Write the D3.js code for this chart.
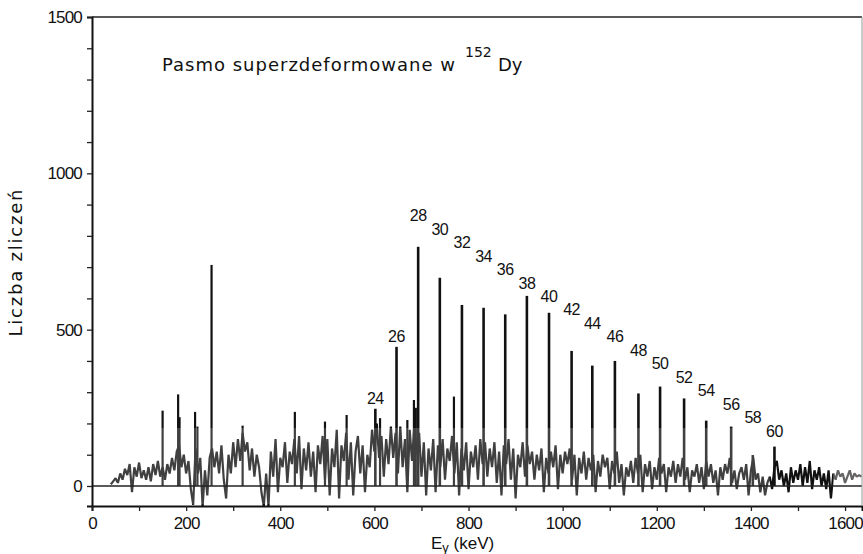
<!DOCTYPE html>
<html>
<head>
<meta charset="utf-8">
<script src="https://cdn.jsdelivr.net/npm/d3@7"></script>
<style>
  html, body { margin: 0; padding: 0; background: #fff; }
  svg { display: block; }
  text { fill: #111; }
</style>
</head>
<body>
<svg id="chart" width="863" height="554"></svg>
<script>
/* Widmo gamma — pasmo superzdeformowane w 152Dy.
   Tło odczytane z rysunku co 5 keV, linie osobno. */

const BG_START = 40, BG_STEP = 5;
// zliczenia tła, 20 wartości na wiersz (100 keV)
const background = [
    5,  15,  25,  10,  40,  20,  55,  35,  70, -20,  60,  30,  75,  25,  50,  20,  60,  15,  70,  35,
   80,  30,  60,  20,  70,  40,  90,  50, 110, 130,  60, 100,  40,  80, -10, -60, 120,  40,  90, -65,
   50, -30,  90, 120,  60, 110,  40, 130,  20, -40, 100,  40, 140,  60, 150,  80, 170, 110, 140,  50,
  120,  30, 100,  60, -20, -65,  40, -65, 110,  30, 150, -20,  90,  60, 140,  10, 110,  70, 150,  40,
  160, -10, 120,  50, 140,  30, 110, -20, 130,  70, 160,  20, 150, -30, 120,  60, 180, -40, 130,  80,
  170,  20, 140, -30, 110, 160,  40, 130, -20, 100,  60, 180, 110, 200,  90, 160,  30, 150,  70, 190,
   90, 170,  40, 190,  60, 150, -20, 180,  80, 200, 100, 170,  30, 140, -30, 120,  50, 150, -20, 130,
   60, 150,  20, 120,  80, 160,  40, 140, -30, 120,  50, 140, -10, 110,  60, 130,  20, 150,  70, 140,
   30, 120,  60, 140,  10, 110, -30, 130,  70, 150,  20, 120, -40, 100,  60, 140,  30, 130,  70, 110,
   20, 100,  50, 120, -20,  90,  40, 110,  60, 130, -10, 100,  40, 110,  70, 120,  20, 100, -30,  90,
   40, 110,  20,  90,  50, 100, -20,  80,  30, 100,  60,  90, -10,  80,  40, 110,  10,  70, -30,  60,
   30,  80,  10,  90,  40, 100, -20,  70,  30,  80, -10,  60,  20,  90,  40,  70, -20,  60,  30,  80,
   10,  70,  30,  90,  20,  60, -20,  50,  30,  70,  10,  60, -10,  80,  30,  70,  10,  50, -30,  60,
   20,  70,  40,  90,  10,  50, -10,  40,  60,  20,  70, -30,  50,  90,  20,  40, -20,  30, -30,  10,
   30, -10,  60,  80,  20,  50,   0,  40, -20,  60,  10,  50,  20,  70,   0,  60,  10,  80, -10,  50,
   20,  60,   0,  40, -10,  50, -40,  40,  20,  50,  30,  40,  10,  30,  50,  20,  40,  30,  35,  30
];

// linie nienależące do pasma
const otherEnergies = [150, 183, 186, 219, 224, 254, 320, 431, 495, 541, 612, 670, 684, 688, 769];
const otherCounts   = [241, 293, 220, 237, 190, 707, 193, 237, 206, 227, 217, 211, 275, 250, 286];

// pasmo superzdeformowane: spin, energia, zliczenia
const sdSpins    = [24, 26, 28, 30, 32, 34, 36, 38, 40, 42, 44, 46, 48, 50, 52, 54, 56, 58, 60];
const sdEnergies = [602, 647, 693, 739, 786, 832, 878, 924, 971, 1019, 1063, 1111, 1161, 1207, 1258, 1305, 1358, 1404, 1450];
const sdCounts   = [247, 445, 765, 666, 579, 570, 549, 608, 554, 432, 385, 400, 296, 318, 280, 209, 190, 99, 126];

const xTickValues = d3.range(0, 1601, 100);
const xTickLabels = ['0', '200', '400', '600', '800', '1000', '1200', '1400', '1600'];
const yTickValues = d3.range(0, 1501, 100);
const yTickLabels = ['0', '500', '1000', '1500'];

const TITLE = 'Pasmo superzdeformowane w';
const Y_LABEL = 'Liczba zliczeń';

(function () {
  const svg = d3.select('#chart');
  const FONT = '"Liberation Sans", Arial, sans-serif';
  const PLOT_FONT = '"DejaVu Sans", sans-serif';

  const x = d3.scaleLinear().domain([0, 1636]).range([92, 862]);
  const y = d3.scaleLinear().domain([-64, 1500]).range([506, 17]);

  const bgPoints = background.map((c, i) => [BG_START + i * BG_STEP, c]);

  // --- widmo (tło) ---
  const line = d3.line().x(d => x(d[0])).y(d => y(d[1]));
  svg.append('path')
    .datum(bgPoints)
    .attr('d', line)
    .attr('fill', 'none')
    .attr('stroke', '#111')
    .attr('stroke-width', 2.2)
    .attr('stroke-linejoin', 'bevel');

  // --- linie ---
  const peaks = otherEnergies.map((e, i) => ({ e, c: otherCounts[i], w: 2.2 }))
    .concat(sdEnergies.map((e, i) => ({ e, c: sdCounts[i], w: 2.6 })));
  svg.append('g').selectAll('line')
    .data(peaks)
    .join('line')
    .attr('x1', d => x(d.e)).attr('x2', d => x(d.e))
    .attr('y1', y(0)).attr('y2', d => y(d.c))
    .attr('stroke', '#111')
    .attr('stroke-width', d => d.w);

  // zblakły pas skanu w dolnej części
  svg.append('rect')
    .attr('x', x(0) + 1).attr('y', 428)
    .attr('width', x(1440) - x(0) - 1).attr('height', 76)
    .attr('fill', '#fff').attr('opacity', 0.2);
  svg.append('rect')
    .attr('x', x(1575)).attr('y', 428)
    .attr('width', x(1636) - x(1575)).attr('height', 76)
    .attr('fill', '#fff').attr('opacity', 0.35);

  // linia zera
  svg.append('line')
    .attr('x1', x(0)).attr('x2', x(1636))
    .attr('y1', y(0)).attr('y2', y(0))
    .attr('stroke', '#222').attr('stroke-width', 1.6);

  // --- osie ---
  const yAxis = d3.axisLeft(y)
    .tickValues(yTickValues)
    .tickSize(5)
    .tickPadding(5)
    .tickFormat(d => (d % 500 === 0 ? yTickLabels[d / 500] : ''));
  const gy = svg.append('g').attr('transform', `translate(${x(0)},0)`).call(yAxis);

  const xAxis = d3.axisBottom(x)
    .tickValues(xTickValues)
    .tickSize(5)
    .tickPadding(6)
    .tickFormat(d => (d % 200 === 0 ? xTickLabels[d / 200] : ''));
  const gx = svg.append('g').attr('transform', `translate(0,${y(-64)})`).call(xAxis);

  [gx, gy].forEach(g => {
    g.select('.domain').attr('stroke', '#111').attr('stroke-width', 2);
    g.selectAll('.tick line').attr('stroke', '#222').attr('stroke-width', 1.3);
    g.selectAll('.tick text')
      .attr('fill', '#111')
      .style('font-family', FONT)
      .style('font-size', '17px')
      .style('letter-spacing', '-0.8px');
  });

  // ramka: góra i prawa strona
  svg.append('line')
    .attr('x1', x(0)).attr('x2', x(1636)).attr('y1', y(1500)).attr('y2', y(1500))
    .attr('stroke', '#222').attr('stroke-width', 1.6);
  svg.append('line')
    .attr('x1', x(1636)).attr('x2', x(1636)).attr('y1', y(1500)).attr('y2', y(-64))
    .attr('stroke', '#999').attr('stroke-width', 1);

  // --- etykiety spinów ---
  // 24 i 26 tuż nad linią, dalej po skośnej od 28 w dół
  function labelCount(i) {
    const s = sdSpins[i];
    if (s < 28) return sdCounts[i] + 16;
    return 847 - (s - 28) / 2 * 43.1;
  }
  svg.append('g').selectAll('text')
    .data(sdSpins)
    .join('text')
    .attr('x', (d, i) => x(sdEnergies[i]))
    .attr('y', (d, i) => y(labelCount(i)))
    .attr('text-anchor', 'middle')
    .style('font-family', FONT)
    .style('font-size', '16px')
    .style('letter-spacing', '-0.5px')
    .text(d => d);

  // --- tytuł ---
  svg.append('text')
    .attr('x', 162).attr('y', 71)
    .attr('textLength', 293).attr('lengthAdjust', 'spacing')
    .style('font-family', PLOT_FONT).style('font-size', '18px')
    .text(TITLE);
  svg.append('text')
    .attr('x', 465).attr('y', 57)
    .style('font-family', PLOT_FONT).style('font-size', '14px')
    .text('152');
  svg.append('text')
    .attr('x', 498).attr('y', 71)
    .style('font-family', PLOT_FONT).style('font-size', '18px')
    .text('Dy');

  // --- podpisy osi ---
  svg.append('text')
    .attr('transform', 'translate(22,263) rotate(-90)')
    .attr('text-anchor', 'middle')
    .attr('textLength', 147).attr('lengthAdjust', 'spacing')
    .style('font-family', PLOT_FONT).style('font-size', '18px')
    .text(Y_LABEL);

  const xl = svg.append('text')
    .attr('x', 431).attr('y', 549)
    .style('font-family', FONT).style('font-size', '17px');
  xl.append('tspan').text('E');
  xl.append('tspan').attr('dy', 3).style('font-size', '13px').text('γ');
  xl.append('tspan').attr('dy', -3).text(' (keV)');
})();
</script>
</body>
</html>
